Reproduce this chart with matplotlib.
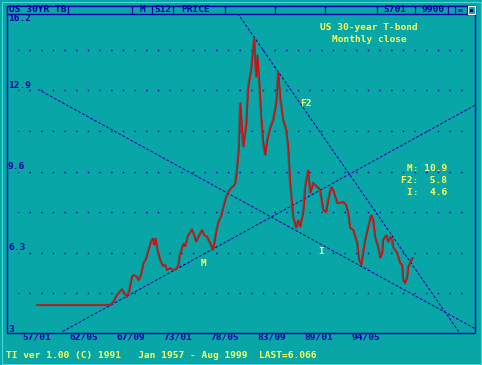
import matplotlib
matplotlib.use("Agg")
import matplotlib.pyplot as plt
from matplotlib.patches import Rectangle
from matplotlib.lines import Line2D
from matplotlib.transforms import offset_copy

W, H = 482, 365

# US 30-year T-bond, monthly close (decimal year, yield %)
years = [
    1957.00, 1965.28, 1965.66, 1966.04, 1966.61, 1966.87, 1967.18, 1967.47, 1967.75, 1967.93,
    1968.23, 1968.50, 1968.77, 1969.06, 1969.37, 1969.63, 1969.90, 1970.13, 1970.28, 1970.42,
    1970.65, 1970.96, 1971.26, 1971.53, 1971.72, 1972.09, 1972.40, 1972.77, 1973.03, 1973.15,
    1973.42, 1973.60, 1973.79, 1974.06, 1974.28, 1974.55, 1974.82, 1975.04, 1975.30, 1975.69,
    1975.95, 1976.26, 1976.55, 1976.94, 1977.09, 1977.31, 1977.57, 1977.85, 1978.14, 1978.45,
    1978.71, 1978.98, 1979.28, 1979.47, 1979.64, 1979.87, 1980.04, 1980.38, 1980.72, 1980.94,
    1981.28, 1981.62, 1981.85, 1981.97, 1982.19, 1982.42, 1982.65, 1982.87, 1983.10, 1983.44,
    1983.78, 1984.12, 1984.35, 1984.57, 1984.91, 1985.26, 1985.48, 1985.71, 1986.05, 1986.39,
    1986.62, 1986.84, 1987.18, 1987.41, 1987.75, 1987.98, 1988.32, 1988.77, 1989.11, 1989.45,
    1989.79, 1990.02, 1990.36, 1990.59, 1991.04, 1991.38, 1991.72, 1992.06, 1992.29, 1992.52,
    1992.86, 1993.31, 1993.54, 1993.77, 1993.99, 1994.22, 1994.56, 1994.90, 1995.13, 1995.35,
    1995.70, 1995.92, 1996.15, 1996.26, 1996.60, 1996.83, 1997.06, 1997.28, 1997.40, 1997.85,
    1998.19, 1998.42, 1998.53, 1998.76, 1998.99, 1999.10, 1999.58,
]
closes = [
    4.16, 4.16, 4.30, 4.57, 4.80, 4.66, 4.50, 4.77, 5.31, 5.38,
    5.34, 5.18, 5.38, 5.86, 6.06, 6.40, 6.74, 6.88, 6.61, 6.88,
    6.40, 5.99, 5.75, 5.79, 5.59, 5.66, 5.59, 5.62, 5.79, 6.13,
    6.47, 6.67, 6.54, 6.94, 7.08, 7.25, 7.01, 6.74, 6.94, 7.22,
    7.01, 6.94, 6.74, 6.40, 6.67, 7.15, 7.55, 7.76, 8.17, 8.57,
    8.78, 8.92, 9.01, 9.12, 9.58, 10.48, 12.39, 10.60, 11.49, 13.04,
    13.74, 15.00, 13.45, 14.35, 13.33, 11.82, 10.76, 10.27, 10.88, 11.37,
    11.70, 12.39, 13.65, 12.64, 11.70, 11.29, 10.60, 9.13, 7.75, 7.30,
    7.62, 7.34, 7.91, 8.97, 9.66, 8.72, 9.13, 8.97, 8.85, 8.03,
    7.95, 8.44, 8.97, 8.85, 8.32, 8.32, 8.36, 8.24, 7.91, 7.30,
    7.22, 6.69, 5.99, 5.79, 6.28, 6.81, 7.34, 7.83, 7.62, 6.93,
    6.52, 6.08, 6.28, 6.81, 7.01, 6.73, 6.93, 6.81, 6.52, 6.28,
    5.87, 5.79, 5.18, 5.06, 5.30, 5.71, 6.07,
]

# trend lines (start / end points)
m_line_x, m_line_y = [1959.9, 2006.7], [3.08, 12.30]
i_line_x, i_line_y = [1957.1, 2006.7], [12.95, 3.20]
f2_line_x, f2_line_y = [1979.46, 2005.2], [16.2, 2.9]

y_ticks = [16.2, 12.9, 9.6, 6.3, 3]
grid_levels = [4.65, 6.3, 7.95, 9.6, 11.25, 12.9, 14.55]
x_ticks = [1957.0, 1962.333, 1967.667, 1973.0, 1978.333, 1983.667, 1989.0, 1994.333]
x_labels = ["57/01", "62/05", "67/09", "73/01", "78/05", "83/09", "89/01", "94/05"]

stats_labels = ["M:", "F2:", "I:"]
stats_values = [10.9, 5.8, 4.6]

BG = "#08a6a6"
BLUE = "#0000a8"
YELLOW = "#ffff55"
RED = "#e80000"
SHADOW = "#585858"

plt.rcParams["font.family"] = ["DejaVu Sans Mono"]
plt.rcParams["font.weight"] = "bold"
FS = 6.8


def px(x, y):
    return x / W, 1 - y / H


fig = plt.figure(figsize=(W / 100, H / 100), dpi=100, facecolor=BG)
ax = fig.add_axes([7 / W, 1 - 333.5 / H, 468 / W, 324 / H])
ax.set_facecolor(BG)
ax.set_xlim(1953.596, 2006.702)
ax.set_ylim(3, 16.2)
ax.set_xticks([])
ax.set_yticks([])
for s in ax.spines.values():
    s.set_visible(False)

# dotted horizontal grid
ax.hlines(grid_levels, 1954.8, 2005.7, colors=BLUE, linewidth=1.0,
          linestyles=(0.5, (1, 7.4)), zorder=1)

# trend lines
for lx, ly in [(m_line_x, m_line_y), (i_line_x, i_line_y), (f2_line_x, f2_line_y)]:
    ax.plot(lx, ly, color=BLUE, linewidth=0.75, linestyle=(0, (2.8, 1.6)), zorder=2)

# price line: grey shadow + red line
ax.plot(years, closes, color=SHADOW, linewidth=1.6, zorder=3,
        solid_joinstyle="miter")
ax.plot(years, closes, color=RED, linewidth=0.8, zorder=4,
        transform=offset_copy(ax.transData, fig=fig, x=0.6, y=0, units="dots"))

# line labels
ax.text(1975.95, 5.87, "M", color=YELLOW, fontsize=FS, ha="center", va="center")
ax.text(1989.23, 6.36, "I", color=YELLOW, fontsize=FS, ha="center", va="center")
ax.text(1987.53, 12.35, "F2", color=YELLOW, fontsize=FS, ha="center", va="center")

# y labels, sitting just above their grid row
for v in y_ticks:
    yy = 333.5 - (v - 3) * 81 / 3.3 - 4.5
    if v == 16.2:
        yy = 18.5
    fig.text(*px(8, yy), f"{v:g}", color=BLUE, fontsize=FS, ha="left", va="center")

# x labels under the frame
for xt, lab in zip(x_ticks, x_labels):
    xx = 7 + (xt - 1953.596) / (2006.702 - 1953.596) * 468
    fig.text(*px(xx, 337.5), lab, color=BLUE, fontsize=FS, ha="center", va="center")

# title, stats, footer
fig.text(*px(369, 27), "US 30-year T-bond", color=YELLOW, fontsize=FS, ha="center", va="center")
fig.text(*px(369, 39.3), "Monthly close", color=YELLOW, fontsize=FS, ha="center", va="center")
for k, (lab, val) in enumerate(zip(stats_labels, stats_values)):
    fig.text(*px(447, 168.7 + k * 11.8), f"{lab} {val:>4}", color=YELLOW, fontsize=FS,
             ha="right", va="center")
fig.text(*px(6, 355.5), "TI ver 1.00 (C) 1991   Jan 1957 - Aug 1999  LAST=6.066",
         color=YELLOW, fontsize=FS, ha="left", va="center")

# frame and header bar
tf = fig.transFigure
fig.add_artist(Rectangle(px(1.5, 363.5), 479 / W, 362 / H, transform=tf,
                         fill=False, edgecolor="#48d8d8", linewidth=0.8))
fig.add_artist(Rectangle(px(7, 333), 468 / W, 327 / H, transform=tf,
                         fill=False, edgecolor=BLUE, linewidth=1.0))
fig.add_artist(Rectangle(px(7, 14), 468 / W, 8 / H, transform=tf,
                         facecolor=BG, edgecolor=BLUE, linewidth=1.0, zorder=5))
for xd in [68, 132, 152, 173, 225, 275, 325, 377, 415, 448, 455, 467]:
    fig.add_artist(Line2D([xd / W, xd / W], [1 - 6 / H, 1 - 14 / H], transform=tf,
                          color=BLUE, linewidth=0.9, zorder=6))
fig.add_artist(Rectangle(px(467.5, 13.5), 7 / W, 7 / H, transform=tf,
                         facecolor=BG, edgecolor="white", linewidth=0.8, zorder=7))
fig.add_artist(Rectangle(px(469.5, 11.5), 3 / W, 3 / H, transform=tf,
                         facecolor=BLUE, edgecolor="none", zorder=8))
for xx, lab in [(38, "US 30YR TB"), (142, "M"), (163, "512"), (196, "PRICE"),
                (395, "5701"), (433, "9900")]:
    fig.text(*px(xx, 10), lab, color=BLUE, fontsize=FS, ha="center", va="center", zorder=9)
fig.text(*px(461, 9.5), "\u2261\u2261", color=BLUE, fontsize=3.5, ha="center", va="center",
         zorder=9)

fig.savefig("out.png", dpi=100, facecolor=BG)
